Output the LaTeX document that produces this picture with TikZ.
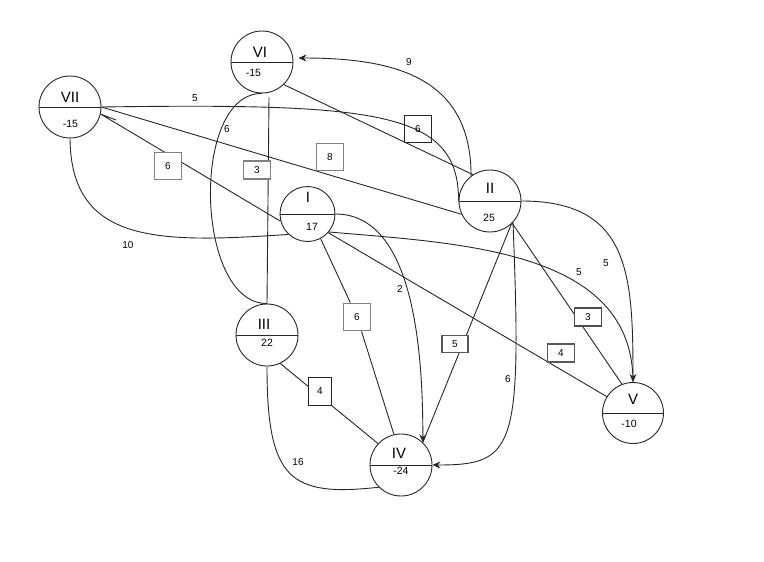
\documentclass[tikz,border=0pt]{standalone}
\usepackage{fontspec}
\setmainfont{Liberation Sans}
\usetikzlibrary{arrows.meta}
\pgfdeclarelayer{edges}
\pgfsetlayers{edges,main}
\begin{document}
\begin{tikzpicture}[x=1pt,y=-1pt,
  circ/.style={circle, draw=black!85, fill=white, inner sep=0pt, minimum size=62pt, line width=0.9pt},
  nm/.style={font=\fontsize{15}{18}\selectfont, inner sep=0pt},
  val/.style={font=\fontsize{10.5}{12}\selectfont, inner sep=0pt},
  lbl/.style={font=\fontsize{10}{12}\selectfont, inner sep=0pt},
  bx/.style={draw=#1, fill=white, line width=1pt, inner sep=0pt, font=\fontsize{10}{12}\selectfont},
  gbx/.style={bx=black!50, line width=1.8pt},
  sq/.style={minimum width=27pt, minimum height=27pt},
  fl/.style={minimum width=27pt, minimum height=18pt},
  con/.style={draw=black!85, line width=0.9pt},
  arr/.style={-{Stealth[length=8pt,width=7pt]}}
]
\useasboundingbox (0,0) rectangle (764,562);

% circles
\node[circ] (n7) at (70,107) {};
\node[circ] (n6) at (262,62) {};
\node[circ, minimum size=55pt] (n1) at (307.5,214) {};
\node[circ] (n2) at (490,201) {};
\node[circ] (n3) at (267,335) {};
\node[circ] (n4) at (401,465) {};
\node[circ, minimum size=61pt] (n5) at (633,413) {};
\foreach \n in {n1,n2,n3,n4,n5,n6,n7} {\draw[con] (\n.west) -- (\n.east);}

% node texts
\node[nm] (t7) at (70,97) {VII};   \node[val] (v7) at (70.5,124) {-15};
\node[nm] (t6) at (260,52) {VI};   \node[val] (v6) at (253.5,73) {-15};
\node[nm] (t1) at (308,197.5) {I}; \node[val] (v1) at (312,227) {17};
\node[nm] (t2) at (490,188) {II};  \node[val] (v2) at (489,218) {25};
\node[nm] (t3) at (264,324) {III}; \node[val] (v3) at (267,343) {22};
\node[nm] (t4) at (399,453) {IV};  \node[val] (v4) at (401,471) {-24};
\node[nm] (t5) at (633,399) {V};   \node[val] (v5) at (629,424) {-10};

% boxed labels
\node[gbx, sq] (b6a) at (168,166) {6};
\node[gbx, fl] (b3a) at (257,170) {3};
\node[gbx, sq] (b8) at (330,157) {8};
\node[bx=black!85, sq, fill=none] (b6c) at (418,129) {6};
\node[gbx, sq] (b6b) at (357,317) {6};
\node[bx=black!85, minimum width=23pt, minimum height=28pt] (b4a) at (320,391) {4};
\node[bx=black!65, line width=1.5pt, minimum width=26pt, minimum height=17pt] (b5) at (455,344) {5};
\node[bx=black!70, line width=1.3pt, fl] (b3v) at (588,317) {3};
\node[bx=black!65, line width=1.3pt, fl] (b4v) at (561,353) {4};

% free labels
\node[lbl] (l5a) at (195,98) {5};
\node[lbl] (l6a) at (227,129) {6};
\node[lbl] (l10) at (128,245) {10};
\node[lbl] (l9) at (409,62) {9};
\node[lbl] (l2) at (400,289) {2};
\node[lbl] (l16) at (298,462) {16};
\node[lbl] (l6b) at (508,379) {6};
\node[lbl] (l5b) at (579,272) {5};
\node[lbl] (l5c) at (606,263) {5};

\coordinate (m1) at (116,120);

\begin{pgfonlayer}{edges}
\draw[con] (n7.east) .. controls (380,103) and (459,112) .. (n2.west);
\draw[con] (n7.east) -- (n2.205);
\draw[con] (n1.195) -- (n7.-13) -- (m1);
\draw[con] (n7.south) .. controls (71,245) and (160,243) .. (n1.227);
\draw[con] (n6.-46) -- (n2.123);
\draw[con] ([xshift=7pt,yshift=-4pt]n6.south) -- (n3.north);
\draw[con] (n6.south) .. controls (190,93) and (195,304) .. (n3.north);
\draw[con, arr] (n2.127) to[out=90, in=0, looseness=1.2] ([xshift=5pt,yshift=4pt]n6.east);
\draw[con, arr] (n2.east) to[out=0, in=90, looseness=1.3] (n5.north);
\draw[con] (n1.-40) to[out=-5, in=90] (n5.north);
\draw[con] (n1.-42) -- (n5.148);
\draw[con, arr] (n1.east) to[out=0, in=90, looseness=0.85] (n4.46);
\draw[con] (n1.-62) -- (b6b) -- (n4.103);
\draw[con] (n3.-65) -- (n4.137);
\draw[con] (n3.south) .. controls (267,480) and (290,497) .. (n4.-135);
\draw[con] (n2.-47) -- (n4.46);
\draw[con, arr] (n2.-43) .. controls (522,450) and (515,465) .. (n4.east);
\draw[con] (n2.-45) -- (n5.111);
\end{pgfonlayer}
\end{tikzpicture}
\end{document}
